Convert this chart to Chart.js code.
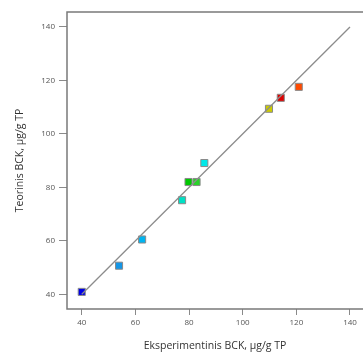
<!DOCTYPE html>
<html>
<head>
<meta charset="utf-8">
<script src="https://cdn.jsdelivr.net/npm/chart.js@4/dist/chart.umd.min.js"></script>
<style>
html,body{margin:0;padding:0;background:#fff;}
#wrap{width:363px;height:354px;position:relative;}
</style>
</head>
<body>
<div id="wrap"><canvas id="c" width="363" height="354"></canvas></div>
<script>
const experimental = [40.0, 53.9, 62.5, 77.4, 79.8, 82.8, 85.7, 109.8, 114.2, 120.9];
const theoretical = [40.9, 50.7, 60.5, 75.2, 82.0, 82.0, 89.1, 109.4, 113.5, 117.6];
const pointColors = ['#0000e6', '#1596e6', '#00b4f0', '#00e0c4', '#00c800', '#2ad22a', '#00e8e8', '#cccc00', '#dd0000', '#ff4a00'];
const refLineX = [40, 140];
const refLineY = [40, 140];
const xTicks = [40, 60, 80, 100, 120, 140];
const yTicks = [40, 60, 80, 100, 120, 140];
const xTitle = 'Eksperimentinis BCK, µg/g TP';
const yTitle = 'Teorinis BCK, µg/g TP';

const frame = {
  id: 'frame',
  afterDatasetsDraw(chart) {
    const a = chart.chartArea, ctx = chart.ctx;
    ctx.save();
    ctx.strokeStyle = '#7a7a7a';
    ctx.lineWidth = 1.5;
    ctx.beginPath();
    ctx.moveTo(a.right + 2, a.top);
    ctx.lineTo(a.left, a.top);
    ctx.lineTo(a.left, a.bottom);
    ctx.lineTo(a.right + 2, a.bottom);
    ctx.stroke();
    ctx.restore();
  }
};

const FONT = "'Open Sans', 'Noto Sans', sans-serif";

new Chart(document.getElementById('c'), {
  type: 'scatter',
  data: {
    datasets: [
      {
        type: 'line',
        data: refLineX.map((x, i) => ({x: x, y: refLineY[i]})),
        borderColor: '#8c8c8c',
        borderWidth: 1.3,
        pointRadius: 0,
        fill: false,
        order: 0
      },
      {
        data: experimental.map((x, i) => ({x: x, y: theoretical[i]})),
        pointStyle: 'rect',
        pointRadius: 5,
        pointBackgroundColor: pointColors,
        pointBorderColor: '#8a8a8a',
        pointBorderWidth: 1,
        order: 1
      }
    ]
  },
  options: {
    responsive: false,
    animation: false,
    layout: {autoPadding: false, padding: {top: 12, right: 0, bottom: 0, left: 0}},
    plugins: {legend: {display: false}, tooltip: {enabled: false}},
    scales: {
      x: {
        type: 'linear',
        min: 34.5,
        max: 144.85,
        afterBuildTicks: s => { s.ticks = xTicks.map(v => ({value: v})); },
        afterFit: s => { s.height = 45; s.paddingRight = 0; s.paddingLeft = 0; },
        grid: {drawOnChartArea: false, drawTicks: true, tickLength: 6, color: '#8a8a8a', lineWidth: 1},
        border: {display: false},
        ticks: {font: {family: FONT, size: 8}, color: '#555', padding: 3, maxRotation: 0},
        title: {display: true, text: xTitle, font: {family: FONT, size: 10.5}, color: '#333', padding: {top: 0, bottom: 1.5}}
      },
      y: {
        type: 'linear',
        min: 34.5,
        max: 145.6,
        afterBuildTicks: s => { s.ticks = yTicks.map(v => ({value: v})); },
        afterFit: s => { s.width = 67; },
        grid: {drawOnChartArea: false, drawTicks: true, tickLength: 8, color: '#8a8a8a', lineWidth: 1},
        border: {display: false},
        ticks: {font: {family: FONT, size: 8}, color: '#555', padding: 4},
        title: {display: true, text: yTitle, font: {family: FONT, size: 10.5}, color: '#333', padding: {top: 14, bottom: 0}}
      }
    }
  },
  plugins: [frame]
});
</script>
</body>
</html>
